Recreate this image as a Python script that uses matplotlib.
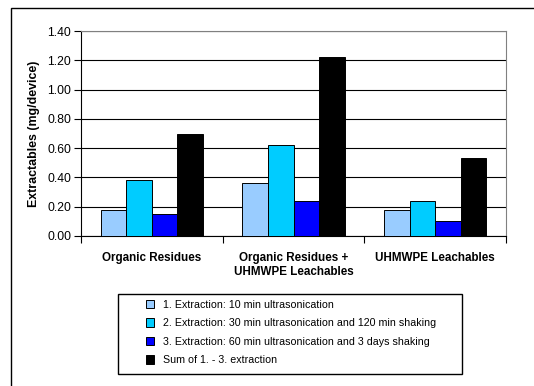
import numpy as np
from matplotlib import pyplot as plt
from matplotlib.patches import Rectangle

plt.rcParams['font.family'] = ['Liberation Sans', 'DejaVu Sans']

# data
categories = ['Organic Residues', 'Organic Residues +\nUHMWPE Leachables', 'UHMWPE Leachables']
series_names = ['1. Extraction: 10 min ultrasonication',
                '2. Extraction: 30 min ultrasonication and 120 min shaking',
                '3. Extraction: 60 min ultrasonication and 3 days shaking',
                'Sum of 1. - 3. extraction']
extraction_1 = [0.18, 0.36, 0.18]
extraction_2 = [0.38, 0.62, 0.24]
extraction_3 = [0.15, 0.24, 0.10]
extraction_sum = [0.70, 1.22, 0.53]
series_values = [extraction_1, extraction_2, extraction_3, extraction_sum]
colors = ['#99CCFF', '#00CCFF', '#0000FF', '#000000']
y_ticks = [0.0, 0.2, 0.4, 0.6, 0.8, 1.0, 1.2, 1.4]

W, H = 534, 386
fig = plt.figure(figsize=(W / 100, H / 100), dpi=100)
ax = fig.add_axes([81 / W, 1 - 236 / H, 425 / W, 205 / H])

x = np.arange(len(categories))
bw = 0.18
for i, vals in enumerate(series_values):
    ax.bar(x + (i - 1.5) * bw, vals, width=bw, color=colors[i],
           edgecolor='black', linewidth=0.7, label=series_names[i], zorder=3)

ax.set_xlim(-0.5, 2.5)
ax.set_ylim(0, 1.4)
ax.set_yticks(y_ticks)
ax.set_yticklabels(['%.2f' % v for v in y_ticks], fontsize=8.7)
ax.yaxis.grid(True, color='black', linewidth=0.8, zorder=0)

# category boundaries get the ticks, names sit at centres
ax.set_xticks([-0.5, 0.5, 1.5, 2.5])
ax.set_xticklabels([])
ax.set_xticks(x, minor=True)
ax.set_xticklabels(categories, minor=True, fontsize=8.4, fontweight='bold')
ax.tick_params(axis='x', which='minor', length=0, pad=11.5)
ax.tick_params(axis='x', which='major', length=5, width=0.8, direction='out')
ax.tick_params(axis='y', length=5, width=0.8, direction='out', pad=2)

for s in ['top', 'right']:
    ax.spines[s].set_color('#808080')
ax.spines['left'].set_linewidth(0.8)
ax.spines['bottom'].set_linewidth(0.8)

ax.set_ylabel('Extractables (mg/device)', fontsize=8.9, fontweight='bold', labelpad=5)

# legend
fig.patches.append(Rectangle((118 / W, 1 - 374 / H), 344 / W, 80 / H,
                             transform=fig.transFigure, fill=False,
                             edgecolor='black', linewidth=1))
fig.legend(loc='upper left', bbox_to_anchor=(136 / W, 1 - 290 / H), frameon=False,
           fontsize=7.7, handlelength=0.8, handleheight=0.8, handletextpad=0.8,
           labelspacing=0.8)

# outer chart frame
fig.patches.append(Rectangle((10.5 / W, -0.05), 1.0, 1.05 - 7.5 / H,
                             transform=fig.transFigure, fill=False,
                             edgecolor='black', linewidth=1))

plt.savefig('out.png', dpi=100)
